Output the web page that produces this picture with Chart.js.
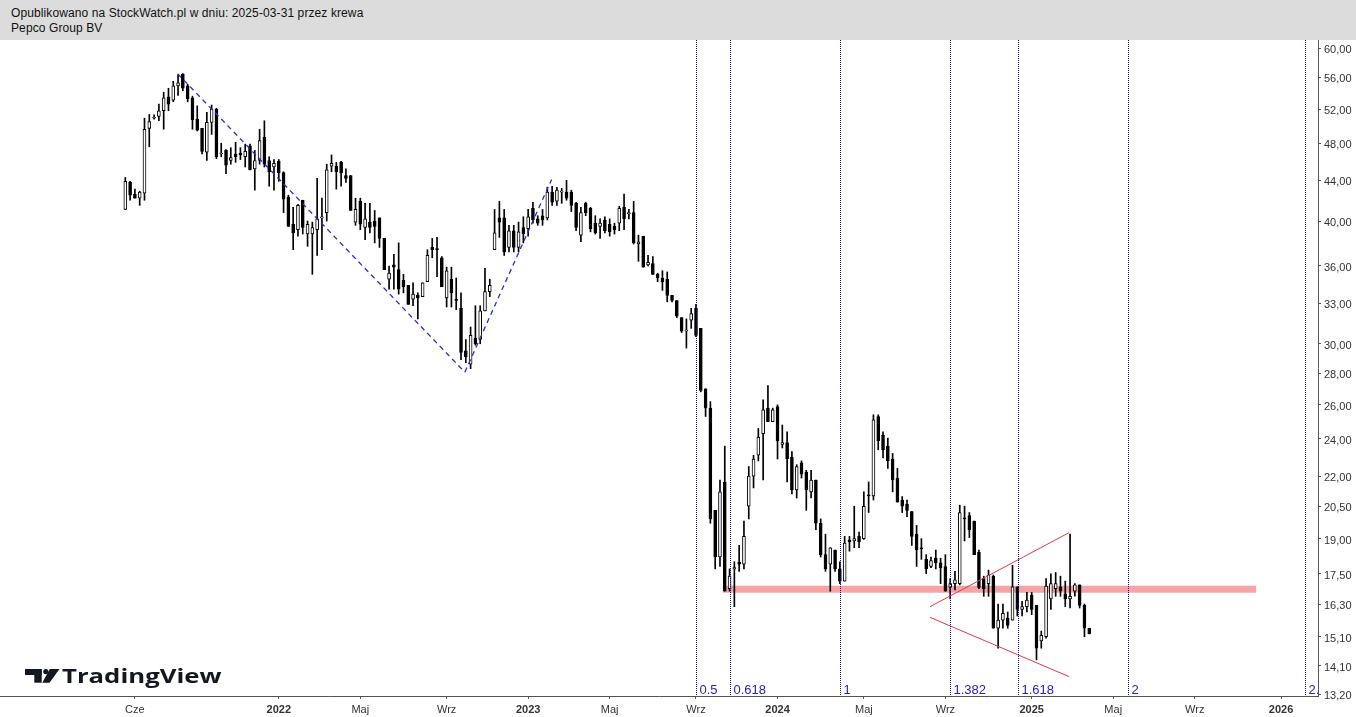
<!DOCTYPE html>
<html>
<head>
<meta charset="utf-8">
<script src="https://cdn.jsdelivr.net/npm/chart.js@4.4.1/dist/chart.umd.min.js"></script>
<style>
  body { margin: 0; background: #fff; }
  #chart { position: absolute; left: 0; top: 0; }
  #header {
    position: absolute; left: 0; top: 0; width: 1356px; height: 40px;
    box-sizing: border-box; padding: 6px 0 0 11px;
    background: #dcdcdc; color: #111; letter-spacing: 0.1px;
    font: 12px "Liberation Sans", Arial, sans-serif; line-height: 15px;
  }
</style>
</head>
<body>
<canvas id="chart" width="1356" height="717"></canvas>
<div id="header">Opublikowano na StockWatch.pl w dniu: 2025-03-31 przez krewa<br>Pepco Group BV</div>
<script>
// weekly candles, index 0 = week of 2021-05-24, last = week of 2025-03-31
const opens = [
  41.1, 43.8, 42.6, 42.2, 42.7, 49.7, 50.9, 51.1, 51.8, 53.5,
  53.1, 54.9, 56.4, 54.9, 53.4, 50.8, 49.7, 47.0, 50.4, 52.0,
  46.8, 47.2, 46.1, 46.8, 46.9, 46.5, 47.7, 45.2, 46.1, 48.7,
  46.1, 45.4, 46.0, 44.8, 42.3, 39.7, 39.2, 42.0, 38.8, 38.8,
  39.2, 40.3, 40.8, 45.5, 45.5, 45.9, 44.5, 44.5, 39.9, 41.9,
  39.4, 39.9, 40.0, 40.3, 38.4, 34.9, 36.1, 35.7, 34.8, 34.4,
  33.3, 33.6, 33.5, 34.7, 37.6, 37.5, 36.7, 33.4, 34.9, 33.3,
  32.6, 29.5, 28.6, 30.4, 30.3, 32.4, 33.9, 37.4, 40.3, 40.3,
  37.6, 39.1, 37.6, 39.4, 39.3, 41.2, 40.2, 40.5, 40.3, 42.8,
  41.9, 42.8, 42.8, 42.8, 41.7, 38.7, 41.7, 41.2, 39.8, 39.5,
  40.1, 39.7, 39.5, 39.8, 41.3, 40.7, 40.8, 37.9, 38.6, 36.1,
  36.2, 35.3, 35.0, 34.9, 33.6, 33.2, 31.9, 30.9, 31.7, 32.6,
  31.1, 27.0, 25.8, 20.3, 18.2, 21.7, 16.9, 17.7, 17.98, 17.9,
  20.5, 22.0, 23.1, 24.3, 25.8, 25.0, 25.9, 23.7, 23.8, 23.0,
  21.3, 22.7, 22.2, 21.2, 21.8, 19.7, 18.3, 17.9, 18.5, 17.7,
  17.2, 18.95, 18.9, 19.1, 19.0, 21.05, 21.0, 25.3, 24.2, 23.6,
  22.9, 21.9, 20.8, 20.6, 20.25, 19.2, 18.6, 18.1, 17.8, 18.15,
  17.95, 17.8, 16.95, 17.1, 17.1, 19.95, 20.05, 19.8, 18.4, 17.3,
  17.1, 17.4, 15.4, 15.7, 15.77, 15.7, 16.97, 16.1, 16.2, 16.65,
  16.25, 14.95, 15.1, 16.5, 16.9, 16.97, 16.7, 16.5, 16.8, 17.05,
  16.25, 15.4
]
const highs = [
  44.3, 43.9, 43.1, 42.9, 50.9, 51.35, 51.3, 52.6, 54.1, 54.6,
  55.5, 56.3, 56.5, 55.1, 53.6, 52.4, 49.7, 51.6, 52.5, 52.1,
  48.0, 47.3, 47.5, 48.1, 47.5, 47.9, 47.9, 47.2, 49.6, 50.6,
  46.5, 46.2, 46.2, 44.9, 42.5, 41.3, 41.6, 42.0, 40.0, 39.9,
  44.2, 42.2, 45.7, 46.7, 45.9, 46.0, 45.2, 44.5, 42.2, 42.2,
  41.7, 41.7, 41.0, 40.3, 38.4, 36.0, 37.0, 38.0, 35.3, 34.4,
  34.6, 33.8, 34.6, 37.4, 38.4, 38.5, 36.8, 35.9, 35.9, 35.0,
  33.8, 30.3, 31.2, 32.8, 32.8, 35.8, 34.9, 41.1, 41.9, 41.1,
  39.6, 39.6, 39.9, 40.4, 41.1, 41.8, 40.5, 41.1, 43.3, 43.4,
  43.3, 43.2, 44.0, 43.0, 41.8, 41.3, 41.8, 41.3, 40.5, 40.2,
  40.4, 40.2, 39.8, 41.4, 42.6, 41.1, 41.9, 38.7, 38.6, 36.9,
  36.8, 35.4, 35.6, 35.5, 33.6, 33.2, 31.9, 31.8, 32.6, 32.9,
  31.1, 27.0, 26.2, 20.3, 21.8, 23.6, 17.7, 18.0, 18.7, 19.8,
  22.5, 23.1, 24.6, 26.3, 27.2, 25.8, 26.0, 24.8, 24.4, 23.3,
  22.6, 22.8, 22.3, 22.3, 21.8, 19.9, 19.2, 18.6, 18.5, 18.0,
  19.1, 19.1, 20.5, 19.3, 21.2, 21.7, 25.4, 25.4, 24.4, 24.05,
  23.2, 22.4, 20.97, 20.8, 20.25, 19.6, 19.0, 18.3, 18.2, 18.5,
  18.15, 18.3, 17.3, 17.6, 20.55, 20.5, 20.2, 19.8, 18.5, 17.4,
  17.65, 17.45, 16.3, 16.3, 16.0, 17.85, 16.97, 16.4, 16.75, 16.75,
  16.25, 15.3, 17.3, 17.5, 17.55, 17.4, 17.2, 19.2, 17.1, 17.05,
  16.3, 15.4
]
const lows = [
  41.1, 42.0, 42.2, 41.5, 42.0, 47.6, 50.8, 50.6, 49.6, 51.8,
  52.9, 53.7, 54.3, 52.9, 49.6, 49.4, 46.8, 46.1, 49.0, 46.3,
  46.5, 44.7, 45.7, 45.9, 46.2, 45.4, 45.1, 43.0, 45.7, 45.4,
  43.4, 43.0, 43.9, 40.8, 39.5, 37.4, 38.6, 38.8, 37.7, 35.3,
  36.9, 37.4, 40.0, 44.9, 43.1, 43.4, 43.8, 41.0, 39.6, 39.2,
  38.3, 38.9, 38.0, 37.6, 35.7, 34.1, 34.1, 33.7, 33.8, 32.9,
  32.8, 31.8, 33.5, 34.7, 36.7, 35.1, 34.3, 32.7, 32.7, 32.5,
  28.9, 28.7, 28.3, 29.9, 30.0, 32.4, 33.5, 37.4, 38.5, 36.9,
  37.2, 37.2, 37.2, 38.0, 38.6, 39.8, 39.6, 39.6, 40.1, 41.5,
  41.5, 41.7, 42.0, 40.9, 39.1, 38.1, 40.5, 39.0, 38.8, 38.4,
  38.9, 38.6, 38.8, 39.1, 39.2, 40.2, 37.9, 36.4, 35.9, 36.0,
  35.3, 34.7, 34.0, 33.1, 33.1, 31.9, 30.8, 29.7, 31.1, 30.5,
  26.8, 25.3, 19.7, 17.7, 17.8, 16.8, 16.8, 16.2, 17.6, 17.7,
  19.9, 21.4, 22.8, 21.8, 25.0, 25.0, 22.9, 23.5, 21.7, 21.1,
  20.9, 21.9, 20.3, 20.9, 19.4, 18.2, 17.6, 16.8, 17.6, 17.1,
  17.2, 18.45, 18.6, 18.6, 18.97, 20.2, 20.8, 23.4, 22.96, 22.4,
  21.2, 20.7, 20.2, 20.0, 18.7, 17.8, 18.1, 17.5, 17.75, 17.7,
  17.1, 16.8, 16.5, 16.85, 17.05, 18.9, 19.05, 18.3, 16.9, 16.6,
  16.6, 15.4, 14.7, 15.4, 15.4, 15.7, 15.85, 15.85, 16.0, 15.9,
  14.3, 14.7, 15.05, 16.1, 16.6, 16.6, 16.2, 16.15, 16.6, 16.15,
  15.1, 15.2
]
const closes = [
  43.9, 42.5, 42.2, 42.8, 49.6, 50.5, 50.95, 51.8, 53.4, 52.6,
  54.9, 55.3, 54.6, 53.3, 50.7, 49.5, 47.1, 50.4, 52.0, 46.5,
  46.8, 45.6, 46.4, 46.5, 46.7, 47.1, 45.1, 46.1, 48.3, 45.7,
  44.9, 45.8, 44.8, 42.1, 39.5, 38.9, 41.5, 39.4, 39.7, 39.4,
  40.2, 40.35, 45.1, 45.8, 44.9, 44.8, 44.2, 41.0, 41.1, 39.7,
  40.2, 39.4, 39.5, 38.4, 35.7, 35.4, 35.9, 34.1, 34.3, 32.9,
  33.7, 33.4, 34.6, 36.9, 37.4, 37.4, 34.3, 35.6, 33.8, 33.2,
  29.4, 29.1, 30.6, 30.0, 32.4, 33.9, 34.4, 38.9, 39.9, 37.2,
  39.1, 37.6, 39.0, 38.8, 40.4, 40.1, 39.8, 40.1, 42.8, 41.8,
  43.0, 42.85, 42.2, 41.5, 39.4, 40.8, 40.8, 39.3, 38.9, 39.8,
  39.1, 39.0, 39.2, 41.2, 40.2, 40.75, 38.0, 38.1, 35.9, 36.3,
  35.3, 35.0, 34.7, 33.6, 33.2, 32.0, 30.9, 30.95, 32.2, 30.6,
  26.9, 25.8, 19.9, 18.2, 21.2, 16.8, 17.4, 17.75, 17.9, 19.1,
  22.0, 22.9, 24.1, 25.7, 25.0, 25.7, 23.9, 23.8, 22.9, 21.3,
  22.5, 22.1, 21.3, 21.8, 19.7, 18.3, 17.7, 18.6, 17.7, 17.2,
  18.8, 18.85, 19.0, 18.85, 20.5, 21.0, 25.1, 23.9, 23.4, 22.8,
  21.8, 20.7, 20.5, 20.3, 19.1, 18.5, 18.55, 17.7, 18.05, 17.95,
  17.75, 16.8, 17.1, 17.25, 20.2, 19.9, 19.4, 18.3, 16.95, 16.9,
  17.45, 15.4, 15.7, 15.95, 15.5, 16.97, 16.1, 16.2, 16.45, 16.1,
  14.7, 15.15, 17.0, 17.1, 17.1, 16.8, 16.5, 16.6, 17.05, 16.25,
  15.4, 15.2
]

// axis ticks (x in weeks from the first candle)
const xTickWeeks = [2, 32, 49, 67, 84, 101, 119, 136, 154, 171, 189, 206, 223, 241]
const xTickLabels = ['Cze', '2022', 'Maj', 'Wrz', '2023', 'Maj', 'Wrz', '2024', 'Maj', 'Wrz', '2025', 'Maj', 'Wrz', '2026']
const yTicks = [13.2, 14.1, 15.1, 16.3, 17.5, 19, 20.5, 22, 24, 26, 28, 30, 33, 36, 40, 44, 48, 52, 56, 60]

// drawings
const fibStart = 89
const fibSpan = 60
const fibLevels = [0.5, 0.618, 1, 1.382, 1.618, 2, 2.618]
const fibLabels = ['0.5', '0.618', '1', '1.382', '1.618', '2', '2.618']
const trendDown = [{ x: 10.9, y: 56.5 }, { x: 70.8, y: 28.07 }]
const trendUp = [{ x: 70.8, y: 28.07 }, { x: 88.9, y: 44.1 }]
const wedgeTop = [{ x: 167.8, y: 16.2 }, { x: 196.8, y: 19.27 }]
const wedgeBottom = [{ x: 167.8, y: 15.8 }, { x: 196.8, y: 13.75 }]
const supportZone = [{ x: 124.6, y: 16.88 }, { x: 235.8, y: 16.88 }]

const FONT = '"Liberation Sans", Arial, sans-serif'

const wicks = opens.map((o, i) => ({ x: i, y: [lows[i], highs[i]] }))
const bodies = opens.map((o, i) => ({ x: i, y: [o, closes[i]] }))

const fibPlugin = {
  id: 'fib',
  afterDatasetsDraw(chart) {
    const { ctx, chartArea: area, scales: { x } } = chart
    ctx.save()
    ctx.beginPath()
    ctx.rect(area.left, area.top, area.right - area.left, area.bottom - area.top)
    ctx.clip()
    fibLevels.forEach((lvl, i) => {
      const px = Math.round(x.getPixelForValue(fibStart + lvl * fibSpan)) + 0.5
      ctx.strokeStyle = '#12128a'
      ctx.lineWidth = 1
      ctx.setLineDash([1, 1])
      ctx.beginPath()
      ctx.moveTo(px, area.top)
      ctx.lineTo(px, area.bottom)
      ctx.stroke()
      ctx.fillStyle = '#2424c4'
      ctx.font = '13px ' + FONT
      ctx.textBaseline = 'alphabetic'
      ctx.fillText(fibLabels[i], px + 3, area.bottom - 2)
    })
    ctx.restore()
  }
}

const logoPlugin = {
  id: 'logo',
  afterDraw(chart) {
    const ctx = chart.ctx
    ctx.save()
    ctx.fillStyle = '#131722'
    ctx.fillRect(25, 669, 16.7, 6)
    ctx.fillRect(34.3, 669, 7.4, 13.7)
    ctx.beginPath()
    ctx.arc(45.8, 671.6, 2.6, 0, Math.PI * 2)
    ctx.fill()
    ctx.beginPath()
    ctx.moveTo(49.8, 669)
    ctx.lineTo(59.5, 669)
    ctx.lineTo(49.5, 682.7)
    ctx.lineTo(42.3, 682.7)
    ctx.closePath()
    ctx.fill()
    ctx.font = 'bold 19px "Open Sans", ' + FONT
    ctx.textBaseline = 'alphabetic'
    const w = ctx.measureText('TradingView').width
    ctx.translate(62, 682.7)
    ctx.scale(159.5 / w, 1)
    ctx.fillText('TradingView', 0, 0)
    ctx.restore()
  }
}

new Chart(document.getElementById('chart'), {
  type: 'bar',
  data: {
    datasets: [
      {
        type: 'line', data: supportZone, borderColor: '#f8a3a3', borderWidth: 7,
        borderCapStyle: 'butt', pointRadius: 0, order: 6
      },
      {
        type: 'bar', data: wicks, backgroundColor: '#000', barThickness: 1,
        grouped: false, order: 5
      },
      {
        type: 'bar', data: bodies,
        backgroundColor: c => closes[c.dataIndex] >= opens[c.dataIndex] ? '#fff' : '#000',
        borderColor: '#000', borderWidth: 1, borderSkipped: false,
        barThickness: 3, minBarLength: 1, grouped: false, order: 4
      },
      { type: 'line', data: trendDown, borderColor: '#2a2ad0', borderWidth: 1.3, borderDash: [5, 4], pointRadius: 0, order: 2 },
      { type: 'line', data: trendUp, borderColor: '#2a2ad0', borderWidth: 1.3, borderDash: [5, 4], pointRadius: 0, order: 2 },
      { type: 'line', data: wedgeTop, borderColor: '#e8354c', borderWidth: 1, pointRadius: 0, order: 1 },
      { type: 'line', data: wedgeBottom, borderColor: '#e8354c', borderWidth: 1, pointRadius: 0, order: 1 }
    ]
  },
  options: {
    responsive: false,
    animation: false,
    events: [],
    layout: { padding: { top: 40, left: 0, right: 0, bottom: 0 } },
    plugins: { legend: { display: false }, tooltip: { enabled: false } },
    scales: {
      x: {
        type: 'linear',
        min: -26.13,
        max: 248.7,
        offset: false,
        grid: { drawOnChartArea: false, drawTicks: true, tickLength: 3, color: '#555', offset: false },
        border: { color: '#555' },
        afterBuildTicks: s => { s.ticks = xTickWeeks.map(v => ({ value: v })) },
        afterFit: s => { s.height = 21; s.paddingLeft = 0; s.paddingRight = 0 },
        ticks: {
          autoSkip: false,
          maxRotation: 0,
          padding: 4,
          color: '#333',
          font: c => ({ family: FONT, size: 11, weight: /^\d{4}$/.test(xTickLabels[c.index]) ? 'bold' : 'normal' }),
          callback: (v, i) => xTickLabels[i]
        }
      },
      y: {
        type: 'logarithmic',
        position: 'right',
        min: 13.14,
        max: 61.14,
        grid: { drawOnChartArea: false, drawTicks: true, tickLength: 3, color: '#555' },
        border: { color: '#555' },
        afterBuildTicks: s => { s.ticks = yTicks.map(v => ({ value: v })) },
        afterFit: s => { s.width = 38 },
        ticks: {
          autoSkip: false,
          padding: 3,
          labelOffset: 2,
          color: '#333',
          font: { family: FONT, size: 11 },
          callback: v => v.toFixed(2).replace('.', ',')
        }
      }
    }
  },
  plugins: [fibPlugin, logoPlugin]
})
</script>
</body>
</html>
